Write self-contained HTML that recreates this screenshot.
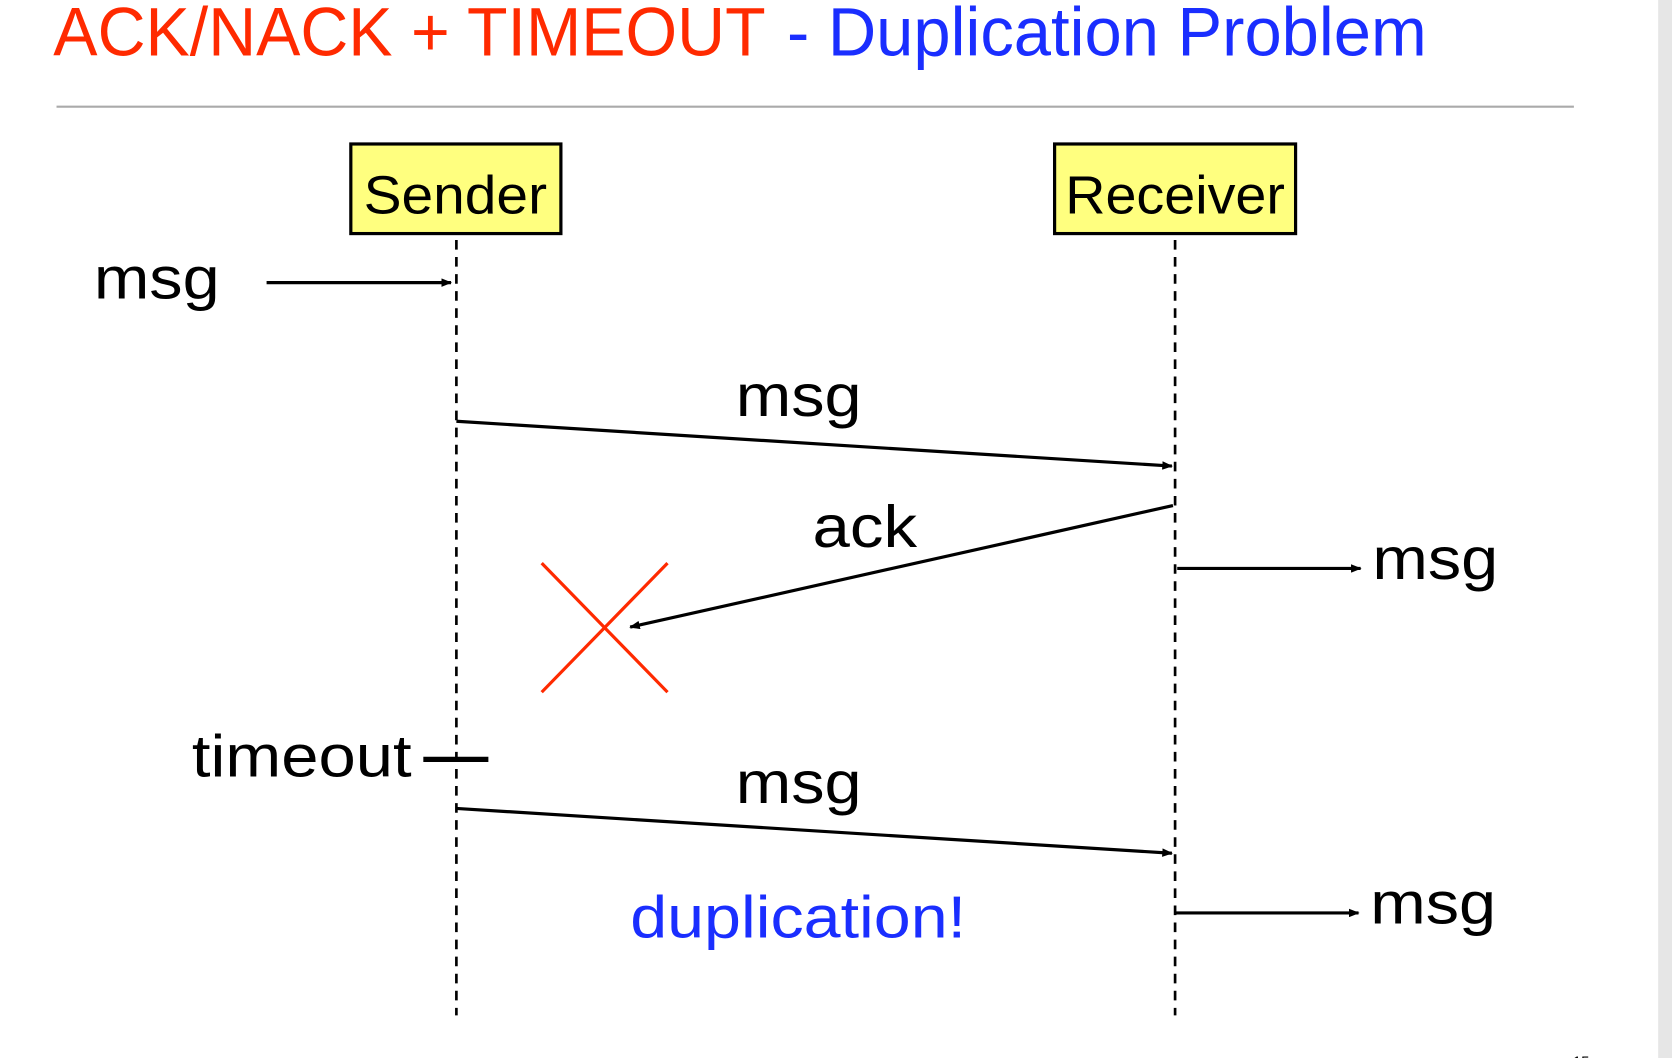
<!DOCTYPE html>
<html><head><meta charset="utf-8"><style>
html,body{margin:0;padding:0;background:#fff;}
svg{display:block;}
text{font-family:"Liberation Sans",sans-serif;}
</style></head><body>
<svg width="1672" height="1058" viewBox="0 0 1568 992" preserveAspectRatio="none" xmlns="http://www.w3.org/2000/svg">
<defs>
<marker id="a" markerWidth="10" markerHeight="8" refX="9" refY="4" orient="auto" markerUnits="userSpaceOnUse">
<path d="M0,0 L10,4 L0,8 z" fill="#000"/></marker>
</defs>
<rect x="0" y="0" width="1568" height="992" fill="#fff"/>
<rect x="1555" y="0" width="13" height="992" fill="#e6e6e6"/>
<text x="50" y="52" font-size="64" fill="#ff2a00" textLength="668" lengthAdjust="spacingAndGlyphs">ACK/NACK + TIMEOUT</text>
<text x="738" y="52" font-size="64" fill="#1a2eff" textLength="600" lengthAdjust="spacingAndGlyphs">- Duplication Problem</text>
<line x1="53" y1="100" x2="1476" y2="100" stroke="#aaa" stroke-width="2"/>
<rect x="329" y="135" width="197" height="84" fill="#ffff7f" stroke="#000" stroke-width="3"/>
<text x="427" y="200" font-size="50" text-anchor="middle" textLength="172" lengthAdjust="spacingAndGlyphs">Sender</text>
<rect x="989" y="135" width="226" height="84" fill="#ffff7f" stroke="#000" stroke-width="3"/>
<text x="1102" y="200" font-size="50" text-anchor="middle" textLength="206" lengthAdjust="spacingAndGlyphs">Receiver</text>
<line x1="428" y1="225" x2="428" y2="952" stroke="#000" stroke-width="2.5" stroke-dasharray="9,7"/>
<line x1="1102" y1="225" x2="1102" y2="952" stroke="#000" stroke-width="2.5" stroke-dasharray="9,7"/>
<g font-size="56" fill="#000">
<text x="88" y="280" textLength="118" lengthAdjust="spacingAndGlyphs">msg</text>
<text x="690" y="390" textLength="118" lengthAdjust="spacingAndGlyphs">msg</text>
<text x="762" y="513" textLength="98" lengthAdjust="spacingAndGlyphs">ack</text>
<text x="1287" y="543" textLength="118" lengthAdjust="spacingAndGlyphs">msg</text>
<text x="180" y="728" textLength="206" lengthAdjust="spacingAndGlyphs">timeout</text>
<text x="690" y="753" textLength="118" lengthAdjust="spacingAndGlyphs">msg</text>
<text x="1285" y="866" textLength="118" lengthAdjust="spacingAndGlyphs">msg</text>
</g>
<text x="591" y="879" font-size="56" fill="#1a2eff" textLength="315" lengthAdjust="spacingAndGlyphs">duplication!</text>
<g stroke="#000" stroke-width="3" fill="none">
<line x1="250" y1="265" x2="423" y2="265" marker-end="url(#a)"/>
<line x1="428" y1="395" x2="1099" y2="437" marker-end="url(#a)"/>
<line x1="1100" y1="474" x2="591" y2="588" marker-end="url(#a)"/>
<line x1="1104" y1="533" x2="1276" y2="533" marker-end="url(#a)"/>
<line x1="428" y1="758" x2="1099" y2="800" marker-end="url(#a)"/>
<line x1="1102" y1="856" x2="1274" y2="856" marker-end="url(#a)"/>
</g>
<line x1="397" y1="712" x2="458" y2="712" stroke="#000" stroke-width="5"/>
<g stroke="#ff2a00" stroke-width="3">
<line x1="508" y1="528" x2="626" y2="649"/>
<line x1="626" y1="528" x2="508" y2="649"/>
</g>
<text x="1475" y="1000" font-size="14" fill="#000">15</text>
</svg>
</body></html>
